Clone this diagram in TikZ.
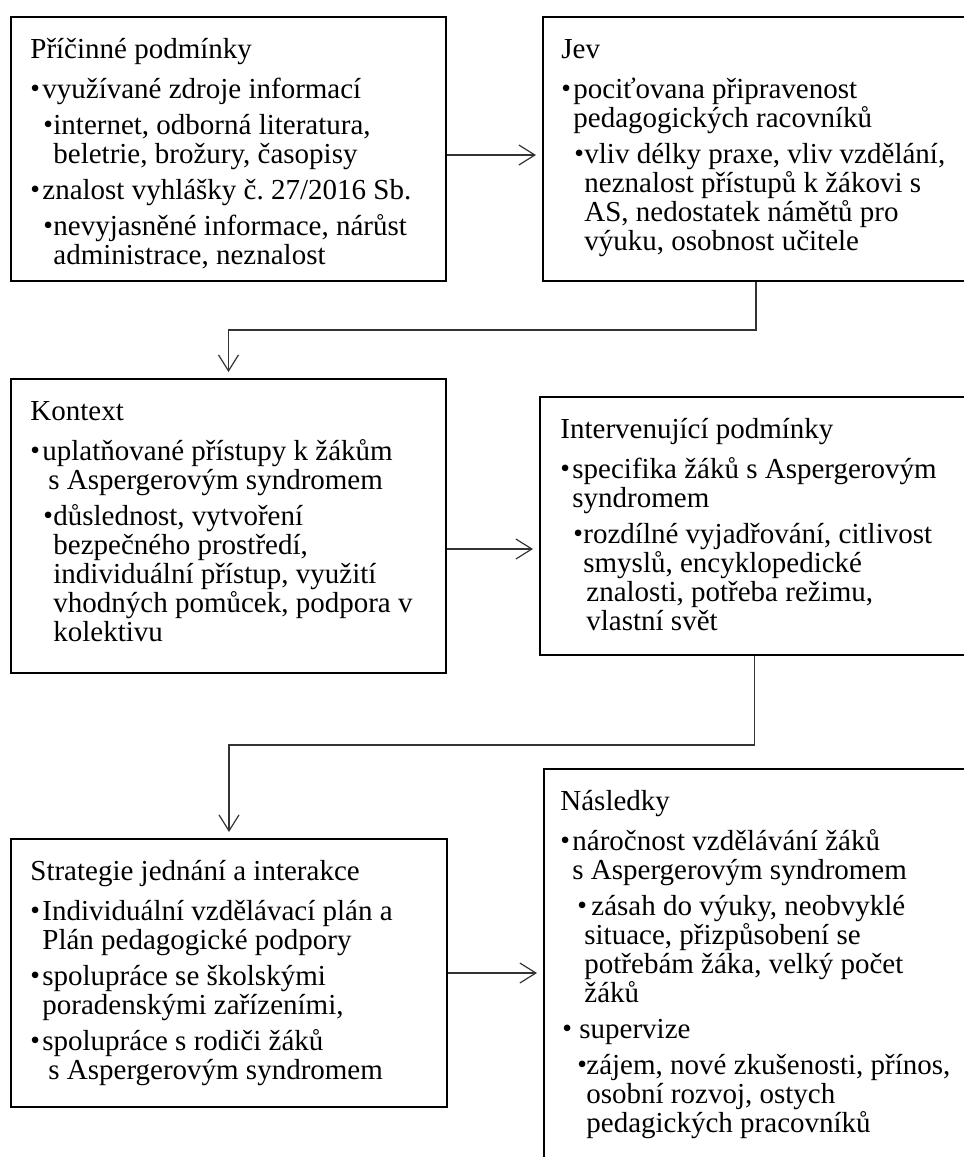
\documentclass[tikz,border=0pt]{standalone}
\usepackage{fontspec}
\setmainfont{Liberation Serif}
\usepackage{graphicx}
\usetikzlibrary{arrows.meta}

% odrazky
\newcommand{\tecka}{\raisebox{0.3pt}{\scalebox{0.95}{\textbullet}}}
\newcommand{\bd}{\makebox[6pt][l]{\tecka}}
\newcommand{\mk}{\hspace*{6pt}}
\newcommand{\pbd}{\hspace*{6.5pt}\makebox[5pt][l]{\tecka}}
\newcommand{\pk}{\hspace*{11.5pt}}

\begin{document}
\begin{tikzpicture}[x=0.5pt,y=-0.5pt,
  box/.style={draw,line width=1pt,anchor=north west,inner sep=0pt},
  txt/.style={anchor=north west,inner sep=0pt,align=left,font=\fontsize{14.5}{14.5}\selectfont},
  sipka/.style={draw=black!80,line width=0.6pt,-{Straight Barb[length=8pt,width=10pt]},shorten >=3pt}]
  \useasboundingbox (0,0) rectangle (964,1157);
  \clip (0,0) rectangle (964,1157);

  % ramecky
  \node[box,minimum width=217.5pt,minimum height=132pt] (pricinne) at (10,16) {};
  \node[box,minimum width=213pt,minimum height=132pt] (jev) at (542,16) {};
  \node[box,minimum width=217.5pt,minimum height=147pt] (kontext) at (10,378) {};
  \node[box,minimum width=214.5pt,minimum height=129pt] (intervenujici) at (539,396) {};
  \node[box,minimum width=218pt,minimum height=134pt] (strategie) at (10,838) {};
  \node[box,minimum width=212.5pt,minimum height=204pt] (nasledky) at (543,768) {};

  % texty
  \node[txt] (pricinne-t) at ([xshift=10pt,yshift=-7pt]pricinne.north west) {\rule{0pt}{14pt}Příčinné podmínky\\[5.5pt]
    \bd využívané zdroje informací\\[3.5pt]
    \pbd internet, odborná literatura,\\
    \pk beletrie, brožury, časopisy\\[3.5pt]
    \bd znalost vyhlášky č.~27/2016 Sb.\\[3.5pt]
    \pbd nevyjasněné informace, nárůst\\
    \pk administrace, neznalost};
  \node[txt] (jev-t) at ([xshift=9.5pt,yshift=-7pt]jev.north west) {\rule{0pt}{14pt}Jev\\[5.5pt]
    \bd pociťovana připravenost\\
    \mk pedagogických racovníků\\[3.5pt]
    \pbd vliv délky praxe, vliv vzdělání,\\
    \pk neznalost přístupů k žákovi s\\
    \pk AS, nedostatek námětů pro\\
    \pk výuku, osobnost učitele};
  \node[txt] (kontext-t) at ([xshift=10pt,yshift=-7pt]kontext.north west) {\rule{0pt}{14pt}Kontext\\[5.5pt]
    \bd uplatňované přístupy k žákům\\
    \hspace*{9pt}s Aspergerovým syndromem\\[3.5pt]
    \pbd důslednost, vytvoření\\
    \pk bezpečného prostředí,\\
    \pk individuální přístup, využití\\
    \pk vhodných pomůcek, podpora v\\
    \pk kolektivu};
  \node[txt] (intervenujici-t) at ([xshift=10.5pt,yshift=-7pt]intervenujici.north west) {\rule{0pt}{14pt}Intervenující podmínky\\[5.5pt]
    \bd specifika žáků s Aspergerovým\\
    \mk syndromem\\[3.5pt]
    \pbd rozdílné vyjadřování, citlivost\\
    \pk smyslů, encyklopedické\\
    \hspace*{13pt}znalosti, potřeba režimu,\\
    \hspace*{13pt}vlastní svět};
  \node[txt] (strategie-t) at ([xshift=10pt,yshift=-7pt]strategie.north west) {\rule{0pt}{14pt}Strategie jednání a interakce\\[5.5pt]
    \bd Individuální vzdělávací plán a\\
    \mk Plán pedagogické podpory\\[3.5pt]
    \bd spolupráce se školskými\\
    \mk poradenskými zařízeními,\\[3.5pt]
    \bd spolupráce s rodiči žáků\\
    \hspace*{9pt}s Aspergerovým syndromem};
  \node[txt] (nasledky-t) at ([xshift=8.5pt,yshift=-7pt]nasledky.north west) {\rule{0pt}{14pt}Následky\\[5.5pt]
    \bd náročnost vzdělávání žáků\\
    \mk s Aspergerovým syndromem\\[3.5pt]
    \hspace*{8.5pt}\makebox[7pt][l]{\tecka}zásah do výuky, neobvyklé\\
    \hspace*{12pt}situace, přizpůsobení se\\
    \hspace*{12pt}potřebám žáka, velký počet\\
    \hspace*{12pt}žáků\\[3.5pt]
    \hspace*{1pt}\makebox[8.5pt][l]{\tecka}supervize\\[3.5pt]
    \hspace*{8.5pt}\makebox[4.5pt][l]{\tecka}zájem, nové zkušenosti, přínos,\\
    \hspace*{13pt}osobní rozvoj, ostych\\
    \hspace*{13pt}pedagických pracovníků};

  % sipky
  \draw[sipka] ([yshift=-3pt]pricinne.east) -- ([yshift=-3pt]jev.west);
  \draw[sipka] (jev.south) -- ++(0,48) -| (kontext.north);
  \draw[sipka] ([yshift=-11.5pt]kontext.east) -- ([yshift=-11.5pt]intervenujici.west);
  \draw[sipka] (intervenujici.south) -- ++(0,89) -| (strategie.north);
  \draw[sipka] (strategie.east) -- (nasledky.west);
\end{tikzpicture}
\end{document}
